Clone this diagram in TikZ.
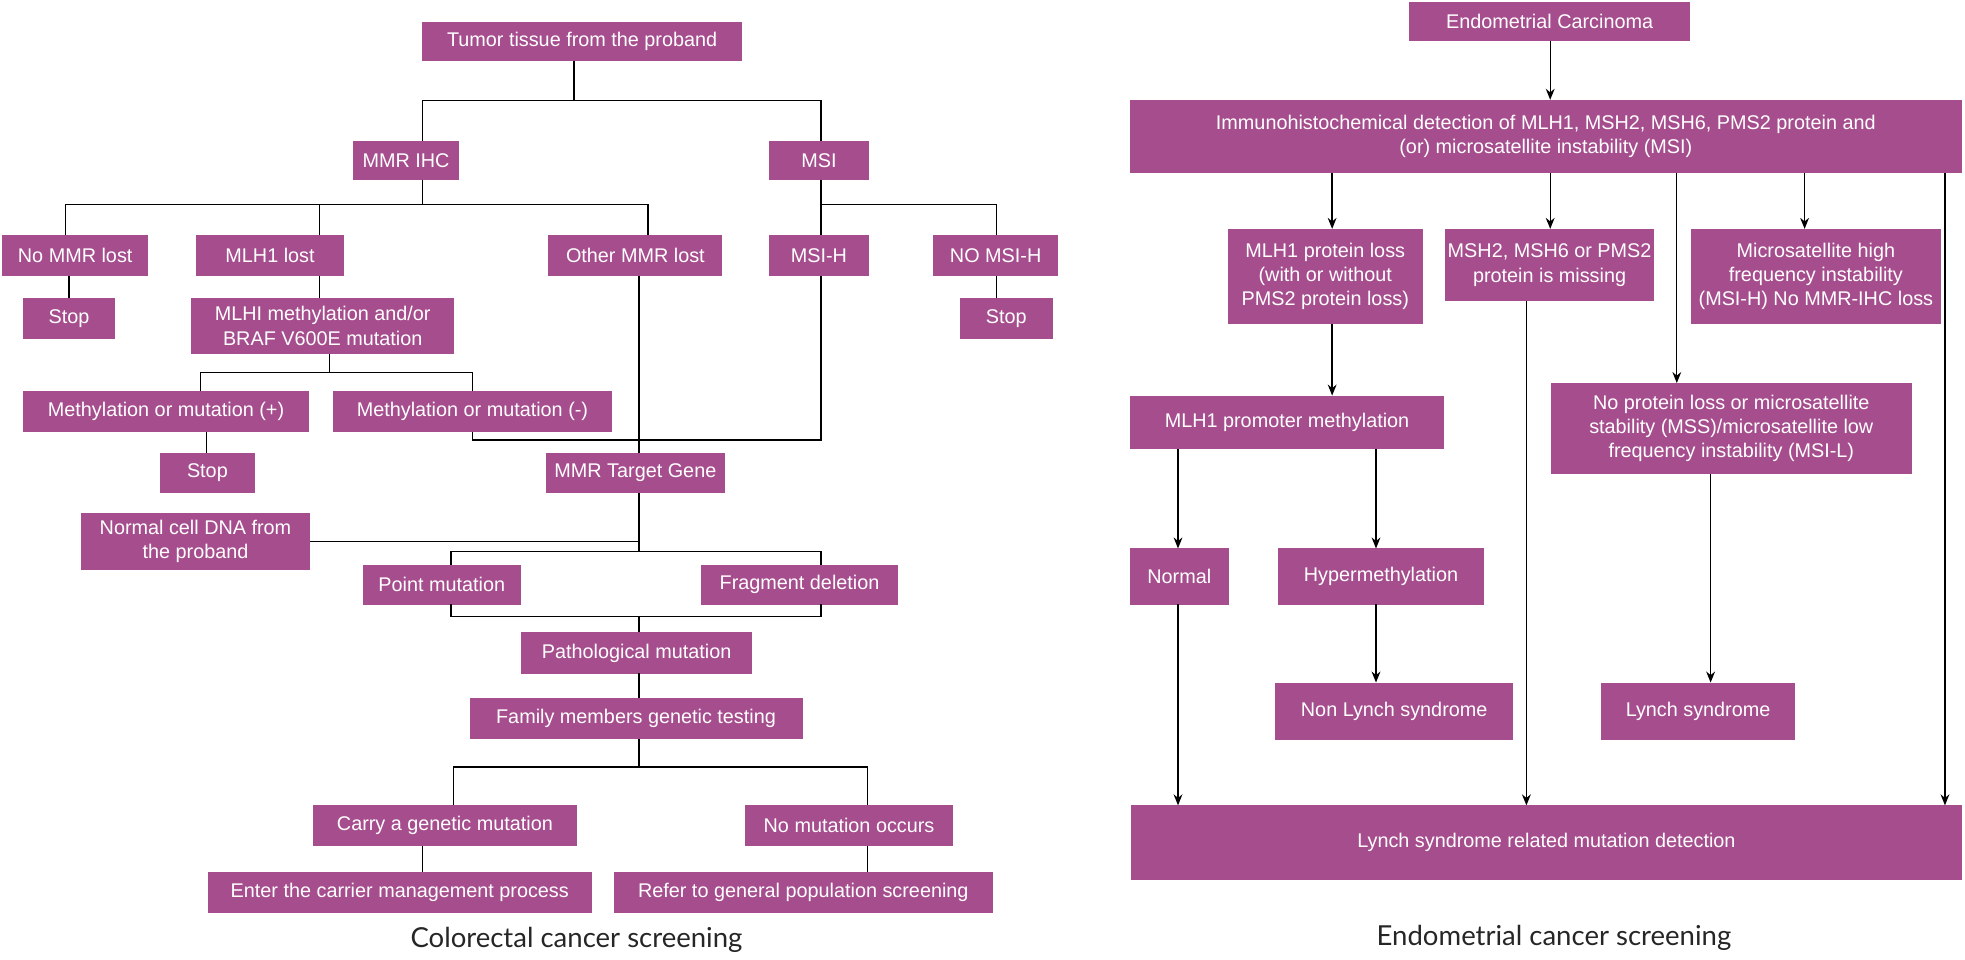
\documentclass[tikz,border=0pt]{standalone}
\usepackage{fontspec}
\setmainfont{Liberation Sans}
\newfontfamily\capfont{Lato}
\usetikzlibrary{arrows.meta}
\definecolor{boxpurple}{HTML}{A64D8E}
\tikzset{
  box/.style={fill=boxpurple, draw=boxpurple, text=white, align=center, inner sep=1pt,
              font=\fontsize{9}{11}\selectfont},
  link/.style={black, line width=0.6pt},
  arr/.style={link, -{Stealth[length=5pt,width=4pt]}},
  caption/.style={font=\capfont\fontsize{12.5}{14}\selectfont, text=black!85}
}
% box from corner (x1,y1) to corner (x2,y2), in pixels
\newcommand\bx[6]{\node[box, minimum width={(#4-#2)*0.02cm}, minimum height={(#5-#3)*0.02cm}]
  (#1) at ({(#2+#4)/2},{(#3+#5)/2}) {#6};}
\begin{document}
\begin{tikzpicture}[x=0.02cm, y=-0.02cm]
  \useasboundingbox (0,0) rectangle (1568,766);
  % colorectal
  \bx{tumor}{337}{18}{592}{48}{Tumor tissue from the proband}
  \bx{ihc}{282}{113}{366}{143}{MMR IHC}
  \bx{msi}{614}{113}{693}{143}{MSI}
  \bx{nommr}{2}{188}{118}{220}{No MMR lost}
  \bx{mlhlost}{157}{188}{274}{220}{MLH1 lost}
  \bx{other}{438}{188}{576}{220}{Other MMR lost}
  \bx{msih}{614}{188}{693}{220}{MSI-H}
  \bx{nomsih}{745}{188}{844}{220}{NO MSI-H}
  \bx{stopa}{19}{238}{91}{270}{Stop}
  \bx{braf}{153}{238}{362}{282}{MLHI methylation and/or\\BRAF V600E mutation}
  \bx{stopb}{766}{238}{840}{270}{Stop}
  \bx{methpos}{19}{312}{246}{344}{Methylation or mutation (+)}
  \bx{methneg}{266}{312}{488}{344}{Methylation or mutation (-)}
  \bx{stopc}{128}{362}{203}{393}{Stop}
  \bx{target}{436}{362}{578}{393}{MMR Target Gene}
  \bx{normdna}{65}{410}{247}{454}{Normal cell DNA from\\the proband}
  \bx{point}{290}{451}{415}{482}{Point mutation}
  \bx{frag}{560}{451}{716}{482}{Fragment deletion}
  \bx{patho}{416}{505}{600}{537}{Pathological mutation}
  \bx{family}{375}{557}{640}{589}{Family members genetic testing}
  \bx{carry}{250}{643}{460}{675}{Carry a genetic mutation}
  \bx{nomut}{595}{643}{760}{675}{No mutation occurs}
  \bx{enter}{166}{696}{472}{728}{Enter the carrier management process}
  \bx{refer}{490}{696}{792}{728}{Refer to general population screening}
  \node[caption] (capl) at (460,750) {Colorectal cancer screening};
  \draw[link] (tumor.south -| 458,0) -- (458,80);
  \draw[link] (ihc.north -| 337,0) |- (655,80) -- (msi.north -| 655,0);
  \draw[link] (ihc.south -| 337,0) -- (337,163);
  \draw[link] (nommr.north -| 52,0) |- (517,163) -- (other.north -| 517,0);
  \draw[link] (mlhlost.north -| 255,0) -- (255,163);
  \draw[link] (msi.south -| 655,0) |- (795,163) -- (nomsih.north -| 795,0);
  \draw[link] (msih.north -| 655,0) -- (655,163);
  \draw[link] (nommr.south -| 55,0) -- (stopa.north -| 55,0);
  \draw[link] (nomsih.south -| 795,0) -- (stopb.north -| 795,0);
  \draw[link] (mlhlost.south -| 255,0) -- (braf.north -| 255,0);
  \draw[link] (braf.south -| 263,0) -- (263,297);
  \draw[link] (methpos.north -| 160,0) |- (377,297) -- (methneg.north -| 377,0);
  \draw[link] (methpos.south -| 165,0) -- (stopc.north -| 165,0);
  \draw[link] (methneg.south -| 377,0) |- (655,351) -- (msih.south -| 655,0);
  \draw[link] (other.south -| 510,0) -- (target.north -| 510,0);
  \draw[link] (target.south -| 510,0) -- (510,440);
  \draw[link] (normdna.east) -- (normdna.east -| 510,0);
  \draw[link] (point.north -| 360,0) |- (655,440) -- (frag.north -| 655,0);
  \draw[link] (point.south -| 360,0) |- (655,492) -- (frag.south -| 655,0);
  \draw[link] (patho.north -| 510,0) -- (510,492);
  \draw[link] (patho.south -| 510,0) -- (family.north -| 510,0);
  \draw[link] (family.south -| 510,0) -- (510,612);
  \draw[link] (carry.north -| 362,0) |- (692,612) -- (nomut.north -| 692,0);
  \draw[link] (carry.south -| 337,0) -- (enter.north -| 337,0);
  \draw[link] (nomut.south -| 692,0) -- (refer.north -| 692,0);
  % endometrial
  \bx{endo}{1125}{2}{1348}{32}{Endometrial Carcinoma}
  \bx{immuno}{902}{80}{1565}{138}{Immunohistochemical detection of MLH1, MSH2, MSH6, PMS2 protein and\\(or) microsatellite instability (MSI)}
  \bx{mlhloss}{980}{183}{1135}{258}{MLH1 protein loss\\(with or without\\PMS2 protein loss)}
  \bx{msh}{1155}{183}{1318}{240}{MSH2, MSH6 or PMS2\\protein is missing}
  \bx{msifreq}{1350}{183}{1548}{258}{Microsatellite high\\frequency instability\\(MSI-H) No MMR-IHC loss}
  \bx{noloss}{1238}{306}{1525}{378}{No protein loss or microsatellite\\stability (MSS)/microsatellite low\\frequency instability (MSI-L)}
  \bx{promoter}{902}{316}{1152}{358}{MLH1 promoter methylation}
  \bx{normal}{902}{438}{980}{482}{Normal}
  \bx{hyper}{1020}{438}{1184}{482}{Hypermethylation}
  \bx{nonlynch}{1018}{545}{1207}{590}{Non Lynch syndrome}
  \bx{lynch}{1278}{545}{1432}{590}{Lynch syndrome}
  \bx{detect}{903}{643}{1565}{702}{Lynch syndrome related mutation detection}
  \node[caption] (capr) at (1240,748) {Endometrial cancer screening};
  \draw[arr] (endo.south -| 1237,0) -- (immuno.north -| 1237,0);
  \draw[arr] (immuno.south -| 1063,0) -- (mlhloss.north -| 1063,0);
  \draw[arr] (immuno.south -| 1237,0) -- (msh.north -| 1237,0);
  \draw[arr] (immuno.south -| 1338,0) -- (noloss.north -| 1338,0);
  \draw[arr] (immuno.south -| 1440,0) -- (msifreq.north -| 1440,0);
  \draw[arr] (immuno.south -| 1552,0) -- (detect.north -| 1552,0);
  \draw[arr] (mlhloss.south -| 1063,0) -- (promoter.north -| 1063,0);
  \draw[arr] (promoter.south -| 940,0) -- (normal.north -| 940,0);
  \draw[arr] (promoter.south -| 1098,0) -- (hyper.north -| 1098,0);
  \draw[arr] (normal.south -| 940,0) -- (detect.north -| 940,0);
  \draw[arr] (hyper.south -| 1098,0) -- (nonlynch.north -| 1098,0);
  \draw[arr] (msh.south -| 1218,0) -- (detect.north -| 1218,0);
  \draw[arr] (noloss.south -| 1365,0) -- (lynch.north -| 1365,0);
\end{tikzpicture}
\end{document}
